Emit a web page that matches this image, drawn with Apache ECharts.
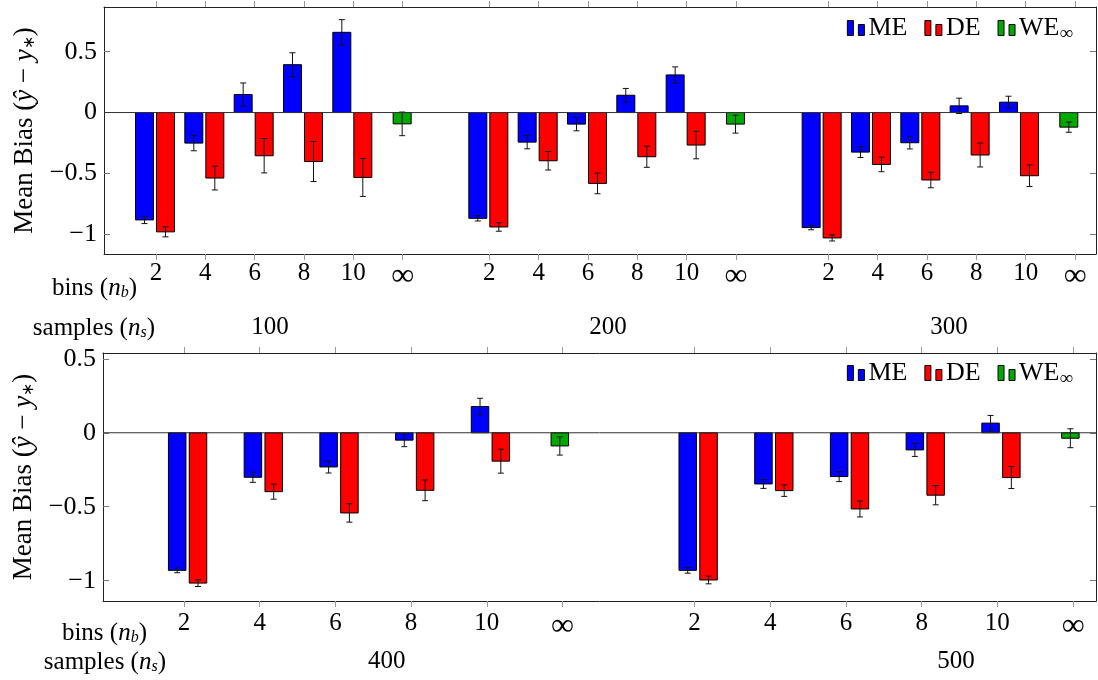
<!DOCTYPE html>
<html><head><meta charset="utf-8">
<script src="https://cdn.jsdelivr.net/npm/echarts@6/dist/echarts.min.js"></script>
<style>html,body{margin:0;padding:0;background:#fff}#c{width:1098px;height:680px}</style>
</head><body><div id="c"></div>
<script>
// ---------------- data ----------------
const bins = ['2', '4', '6', '8', '10', '∞'];
const samplesTop = ['100', '200', '300'];
const samplesBottom = ['400', '500'];
const yTickValues = [-1, -0.5, 0, 0.5];
const methods = ['ME', 'DE', 'WE'];

// Mean bias (bins 2,4,6,8,10) and half error bars; WE is for bins = ∞
const me100 = [-0.882, -0.251, 0.148, 0.393, 0.659];
const meErr100 = [0.030, 0.063, 0.095, 0.098, 0.104];
const de100 = [-0.980, -0.538, -0.355, -0.402, -0.533];
const deErr100 = [0.041, 0.098, 0.141, 0.165, 0.156];
const we100 = -0.093, weErr100 = 0.097;

const me200 = [-0.869, -0.243, -0.095, 0.142, 0.309];
const meErr200 = [0.022, 0.055, 0.055, 0.056, 0.066];
const de200 = [-0.940, -0.396, -0.582, -0.363, -0.267];
const deErr200 = [0.035, 0.076, 0.085, 0.087, 0.113];
const we200 = -0.095, weErr200 = 0.074;

const me300 = [-0.945, -0.325, -0.248, 0.055, 0.085];
const meErr300 = [0.018, 0.044, 0.051, 0.063, 0.049];
const de300 = [-1.030, -0.426, -0.554, -0.349, -0.519];
const deErr300 = [0.025, 0.060, 0.064, 0.098, 0.089];
const we300 = -0.120, weErr300 = 0.042;

const me400 = [-0.930, -0.301, -0.231, -0.050, 0.177];
const meErr400 = [0.016, 0.034, 0.041, 0.044, 0.056];
const de400 = [-1.016, -0.398, -0.542, -0.389, -0.192];
const deErr400 = [0.023, 0.051, 0.062, 0.070, 0.081];
const we400 = -0.089, weErr400 = 0.062;

const me500 = [-0.930, -0.346, -0.296, -0.116, 0.065];
const meErr500 = [0.019, 0.030, 0.034, 0.044, 0.052];
const de500 = [-0.995, -0.391, -0.515, -0.422, -0.303];
const deErr500 = [0.026, 0.039, 0.054, 0.065, 0.074];
const we500 = -0.037, weErr500 = 0.064;

// ---------------- layout / style ----------------
const FONT = 'Liberation Serif';
const FS = 25;
const COLORS = { ME: '#0000ff', DE: '#ff0000', WE: '#00a800' };

const panels = [
  {
    grid: { left: 104, top: 7, width: 992, height: 247 },
    samples: samplesTop,
    me: [me100, me200, me300], meErr: [meErr100, meErr200, meErr300],
    de: [de100, de200, de300], deErr: [deErr100, deErr200, deErr300],
    we: [we100, we200, we300], weErr: [weErr100, weErr200, weErr300],
    tickStart: [0, 6.757, 13.63], barStart: [0, 6.757, 13.514],
    xMin: -1.054, xMax: 19.055, yMin: -1.162, yMax: 0.867,
    sampleOffsetInGroup: [2.311, 2.406, 2.445],
    barW: 18, offs: { ME: -11.5, DE: 9.5, WE: -0.5 },
    labelMargin: 7, sampleAxisOffset: 53,
    binsLabel: { x: 137, y: 288 }, samplesLabel: { x: 155, y: 328 },
    legendTop: 15
  },
  {
    grid: { left: 103, top: 353, width: 993, height: 248 },
    samples: samplesBottom,
    me: [me400, me500], meErr: [meErr400, meErr500],
    de: [de400, de500], deErr: [deErr400, deErr500],
    we: [we400, we500], weErr: [weErr400, weErr500],
    tickStart: [0, 6.744], barStart: [0, 6.744],
    xMin: -1.070, xMax: 12.047, yMin: -1.137, yMax: 0.539,
    sampleOffsetInGroup: [2.678, 3.453],
    barW: 17.5, offs: { ME: -6.8, DE: 14, WE: -2.7 },
    labelMargin: 10, sampleAxisOffset: 40,
    binsLabel: { x: 147, y: 633 }, samplesLabel: { x: 166, y: 662 },
    legendTop: 360
  }
];

const minus = v => (v < 0 ? '\u2212' + Math.abs(v) : String(v));
const near = (arr, v) => arr.findIndex(p => Math.abs(p - v) < 1e-6);

const grid = [], xAxis = [], yAxis = [], series = [], legend = [], graphic = [];

panels.forEach((P, pi) => {
  grid.push(P.grid);
  const tickPos = [], tickLab = [];
  P.tickStart.forEach(s => bins.forEach((b, i) => { tickPos.push(s + i); tickLab.push(b); }));
  const samplePos = P.tickStart.map((s, g) => s + P.sampleOffsetInGroup[g]);

  const axisLineStyle = { color: '#222', width: 1 };
  const xi = xAxis.length, yi = yAxis.length;
  // main x axis (bins)
  xAxis.push({
    type: 'value', gridIndex: pi, position: 'bottom', min: P.xMin, max: P.xMax,
    axisLine: { show: true, onZero: false, lineStyle: axisLineStyle },
    axisTick: { show: true, inside: false, length: 6, customValues: tickPos, lineStyle: { color: '#999' } },
    axisLabel: {
      show: true, customValues: tickPos, margin: P.labelMargin,
      fontFamily: FONT, fontSize: FS, color: '#000',
      formatter: v => { const k = near(tickPos, v); const t = tickLab[k]; return t === '∞' ? '{inf|∞}' : t; },
      rich: { inf: { fontFamily: FONT, fontSize: 32, color: '#000', padding: [0, 0, 12, 0] } }
    },
    splitLine: { show: false }
  });
  // top x axis (ticks only)
  xAxis.push({
    type: 'value', gridIndex: pi, position: 'top', min: P.xMin, max: P.xMax,
    axisLine: { show: true, onZero: false, lineStyle: axisLineStyle },
    axisTick: { show: true, inside: false, length: 6, customValues: tickPos, lineStyle: { color: '#999' } },
    axisLabel: { show: false }, splitLine: { show: false }
  });
  // samples axis
  xAxis.push({
    type: 'value', gridIndex: pi, position: 'bottom', offset: P.sampleAxisOffset, min: P.xMin, max: P.xMax,
    axisLine: { show: false }, axisTick: { show: false },
    axisLabel: {
      show: true, customValues: samplePos, margin: 8, fontFamily: FONT, fontSize: FS, color: '#000',
      formatter: v => P.samples[near(samplePos, v)] || ''
    },
    splitLine: { show: false }
  });
  yAxis.push({
    type: 'value', gridIndex: pi, position: 'left', min: P.yMin, max: P.yMax,
    axisLine: { show: true, onZero: false, lineStyle: axisLineStyle },
    axisTick: { show: true, inside: true, length: 6, customValues: yTickValues, lineStyle: { color: '#777' } },
    axisLabel: { show: true, customValues: yTickValues, margin: 7, fontFamily: FONT, fontSize: 26, color: '#000', formatter: minus },
    splitLine: { show: false },
    name: 'Mean Bias ({i|ŷ} \u2212 {i|y}{s|\u2217})',
    nameLocation: 'middle', nameGap: 66, nameRotate: 90,
    nameTextStyle: {
      fontFamily: FONT, fontSize: 27, color: '#000',
      rich: {
        i: { fontFamily: FONT, fontSize: 27, fontStyle: 'italic', color: '#000' },
        s: { fontFamily: FONT, fontSize: 16, color: '#000', verticalAlign: 'bottom', padding: [9, 0, 0, 0] }
      }
    }
  });
  yAxis.push({
    type: 'value', gridIndex: pi, position: 'right', min: P.yMin, max: P.yMax,
    axisLine: { show: true, onZero: false, lineStyle: axisLineStyle },
    axisTick: { show: true, inside: true, length: 6, customValues: yTickValues, lineStyle: { color: '#777' } },
    axisLabel: { show: false }, splitLine: { show: false }
  });

  const makeBarSeries = (name, vals) => {
    const off = P.offs[name], w = P.barW, color = COLORS[name];
    return {
      type: 'custom', name, xAxisIndex: xi, yAxisIndex: yi,
      itemStyle: { color },
      data: vals, z: 3,
      renderItem: (params, api) => {
        const x = api.value(0), v = api.value(1), e = api.value(2);
        const p0 = api.coord([x, 0]), p1 = api.coord([x, v]);
        const cx = p0[0] + off;
        const top = Math.min(p0[1], p1[1]), h = Math.abs(p1[1] - p0[1]);
        const ya = api.coord([x, v + e])[1], yb = api.coord([x, v - e])[1];
        const cap = 3;
        const ls = { stroke: '#111', lineWidth: 1 };
        return {
          type: 'group', children: [
            { type: 'rect', shape: { x: cx - w / 2, y: top, width: w, height: h }, style: { fill: color, stroke: '#000', lineWidth: 1 } },
            { type: 'line', shape: { x1: cx, y1: ya, x2: cx, y2: yb }, style: ls },
            { type: 'line', shape: { x1: cx - cap, y1: ya, x2: cx + cap, y2: ya }, style: ls },
            { type: 'line', shape: { x1: cx - cap, y1: yb, x2: cx + cap, y2: yb }, style: ls }
          ]
        };
      }
    };
  };

  const meData = [], deData = [], weData = [];
  P.barStart.forEach((s, g) => {
    P.me[g].forEach((v, i) => meData.push([s + i, v, P.meErr[g][i]]));
    P.de[g].forEach((v, i) => deData.push([s + i, v, P.deErr[g][i]]));
    weData.push([s + bins.length - 1, P.we[g], P.weErr[g]]);
  });
  series.push(makeBarSeries('ME', meData));
  series.push(makeBarSeries('DE', deData));
  series.push(makeBarSeries('WE', weData));
  // zero line
  series.push({
    type: 'custom', name: 'zero', xAxisIndex: xi, yAxisIndex: yi, z: 5, silent: true,
    data: [[0, 0]],
    renderItem: (params, api) => {
      const cs = params.coordSys;
      const y = api.coord([0, 0])[1];
      return { type: 'line', shape: { x1: cs.x, y1: y, x2: cs.x + cs.width, y2: y }, style: { stroke: '#333', lineWidth: 1 } };
    }
  });

  legend.push({
    data: methods, right: 25, top: P.legendTop, orient: 'horizontal', padding: 0,
    itemWidth: 17, itemHeight: 15, itemGap: 17,
    icon: 'path://M0,0H6V15H0Z M11,4H17V15H11Z',
    itemStyle: { borderColor: '#000', borderWidth: 1 },
    formatter: n => (n === 'WE' ? 'WE{s|∞}' : n),
    textStyle: {
      fontFamily: FONT, fontSize: 26, color: '#000', padding: [0, 0, 0, -1],
      rich: { s: { fontFamily: FONT, fontSize: 19, color: '#000', verticalAlign: 'bottom', padding: [12, 0, 0, 0] } }
    },
    selectedMode: false
  });

  const richLab = {
    i: { fontFamily: FONT, fontSize: FS, fontStyle: 'italic', fill: '#000' },
    s: { fontFamily: FONT, fontSize: 16, fontStyle: 'italic', fill: '#000', verticalAlign: 'bottom', padding: [8, 0, 0, 0] }
  };
  graphic.push({
    type: 'text', x: P.binsLabel.x, y: P.binsLabel.y,
    style: { text: 'bins ({i|n}{s|b})', fontFamily: FONT, fontSize: FS, fill: '#000', align: 'right', verticalAlign: 'middle', rich: richLab }
  });
  graphic.push({
    type: 'text', x: P.samplesLabel.x, y: P.samplesLabel.y,
    style: { text: 'samples ({i|n}{s|s})', fontFamily: FONT, fontSize: FS, fill: '#000', align: 'right', verticalAlign: 'middle', rich: richLab }
  });
});

const chart = echarts.init(document.getElementById('c'), null, { renderer: 'canvas' });
chart.setOption({
  animation: false, backgroundColor: '#fff',
  grid, xAxis, yAxis, series, legend, graphic
});
</script></body></html>
